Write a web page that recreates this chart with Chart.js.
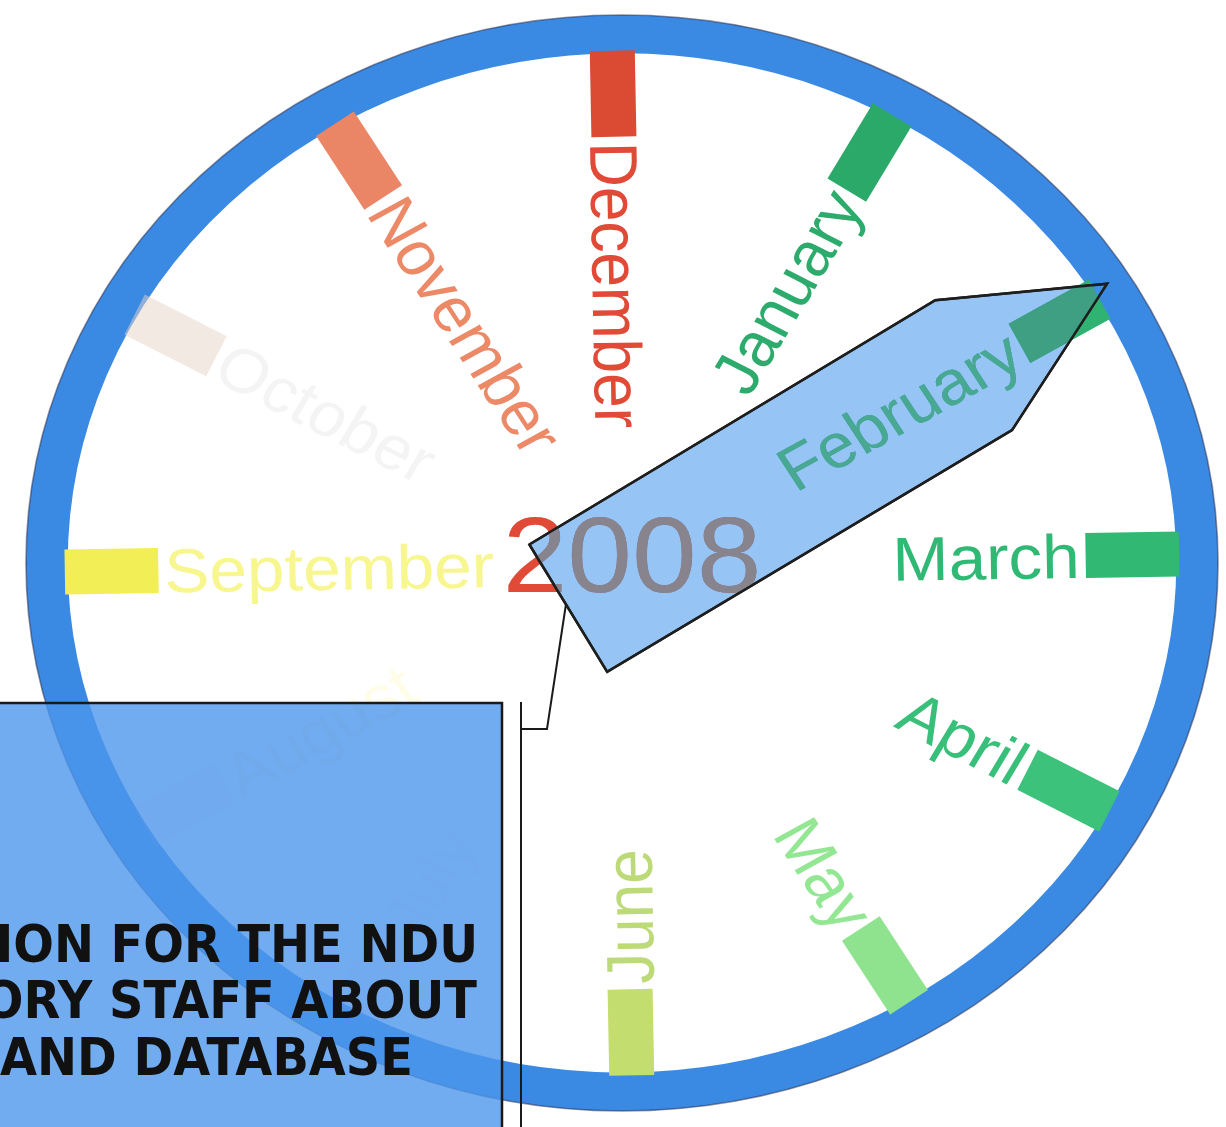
<!DOCTYPE html>
<html>
<head>
<meta charset="utf-8">
<script src="https://cdn.jsdelivr.net/npm/chart.js@4.4.1/dist/chart.umd.min.js"></script>
<style>
  html, body { margin: 0; padding: 0; background: #fff; overflow: hidden; }
  #wrap { width: 1226px; height: 1127px; position: relative; }
</style>
</head>
<body>
<div id="wrap"><canvas id="clock"></canvas></div>
<script>
// Months around the dial (January at one o'clock, December at twelve)
const months = ['January', 'February', 'March', 'April', 'May', 'June',
                'July', 'August', 'September', 'October', 'November', 'December'];
const tickColors = ['#2aa968', '#2fb272', '#31b872', '#3cc27b', '#8fe38f', '#c3dd6e',
                    'rgba(250,240,190,0.06)', 'rgba(250,240,190,0.08)', '#f1ef55',
                    'rgba(232,212,200,0.5)', '#ea8565', '#db4a33'];
const labelColors = ['#2dab6c', '#2eb278', '#2fb974', '#38bf79', '#93e793', '#bdda78',
                     'rgba(255,245,180,0.06)', 'rgba(255,238,140,0.2)', '#f8f68e',
                     'rgba(210,210,210,0.25)', '#ec8967', '#e04a36'];
// how the marks look through the tinted hand
const underHandText = '#87848e';
const underHandLabel = '#48a892';
const underHandTick = '#3e9f82';
const yearLabel = '2008';
const currentMonth = 'February';
const boxLines = ['ION FOR THE NDU', 'ORY STAFF ABOUT', 'AND DATABASE'];

// dial geometry, in unit-circle space
const ROT = 1;                 // slight skew of the scan, degrees
const TICK_IN = 0.778, TICK_OUT = 0.935, LABEL_R = 0.768;
const RING_IN = 0.93;
const HAND_SKEW = 2;           // hand sits a little past the month mark
// hand outline as (along, across) in dial units
const handShape = [[-0.112, 0.113], [0.702, 0.116], [0.96, -0.016], [0.681, -0.153], [-0.129, -0.153]];
const LABEL_SIZE = 62, YEAR_SIZE = 107;

// centre at (622, 563) px, radius 596 x 548 px
const X_MIN = -622 / 596, X_MAX = 604 / 596;
const Y_MIN = -564 / 548, Y_MAX = 563 / 548;

function monthAngle(i) { return (90 - 30 * (i + 1) + ROT) * Math.PI / 180; }
function polar(r, a) { return { x: r * Math.cos(a), y: r * Math.sin(a) }; }

const tickSets = months.map((m, i) => ({
    label: m,
    data: [polar(TICK_IN, monthAngle(i)), polar(TICK_OUT, monthAngle(i))],
    showLine: true,
    borderColor: tickColors[i],
    borderWidth: 45,
    borderCapStyle: 'butt',
    pointRadius: 0,
    fill: false
}));

// clock hand pointing at the current month
const handMonth = months.indexOf(currentMonth);
const handAngle = monthAngle(handMonth) + HAND_SKEW * Math.PI / 180;
const handPoints = handShape.concat([handShape[0]]).map(([u, v]) => ({
    x: u * Math.cos(handAngle) - v * Math.sin(handAngle),
    y: u * Math.sin(handAngle) + v * Math.cos(handAngle)
}));
const handSet = {
    label: 'hand',
    data: handPoints,
    showLine: true,
    fill: 'shape',
    backgroundColor: 'rgba(64, 150, 237, 0.55)',
    borderColor: '#1e1e1e',
    borderWidth: 2.5,
    borderJoinStyle: 'miter',
    pointRadius: 0,
    tension: 0
};

function geom(chart) {
    const xs = chart.scales.x, ys = chart.scales.y;
    const cx = xs.getPixelForValue(0), cy = ys.getPixelForValue(0);
    return { xs, ys, cx, cy, rx: xs.getPixelForValue(1) - cx, ry: cy - ys.getPixelForValue(1) };
}

function drawLabel(ctx, g, i, color) {
    const a = monthAngle(i);
    const outward = Math.cos(a) > 0.1;
    ctx.save();
    ctx.translate(g.xs.getPixelForValue(LABEL_R * Math.cos(a)),
                  g.ys.getPixelForValue(LABEL_R * Math.sin(a)));
    ctx.scale(g.rx / g.ry, 1);
    ctx.rotate(outward ? -a : Math.PI - a);
    ctx.textAlign = outward ? 'right' : 'left';
    ctx.textBaseline = 'alphabetic';
    ctx.fillStyle = color;
    ctx.font = LABEL_SIZE + 'px "Liberation Sans", Arial, sans-serif';
    ctx.fillText(months[i], 0, LABEL_SIZE * 0.358);
    ctx.restore();
}

function drawYear(ctx, g, color) {
    ctx.save();
    ctx.translate(g.cx + 10, g.cy - 9);
    ctx.scale(g.rx / g.ry, 1);
    ctx.textAlign = 'center';
    ctx.textBaseline = 'alphabetic';
    ctx.fillStyle = color;
    ctx.font = YEAR_SIZE + 'px "Liberation Sans", Arial, sans-serif';
    ctx.fillText(yearLabel, 0, YEAR_SIZE * 0.358);
    ctx.restore();
}

const dialPlugin = {
    id: 'dial',
    beforeDatasetsDraw(chart) {
        const ctx = chart.ctx;
        const g = geom(chart);

        // blue ring
        ctx.save();
        ctx.translate(g.cx, g.cy);
        ctx.scale(g.rx / g.ry, 1);
        ctx.beginPath();
        ctx.arc(0, 0, g.ry * (1 + RING_IN) / 2, 0, Math.PI * 2);
        ctx.strokeStyle = '#3a8ae4';
        ctx.lineWidth = g.ry * (1 - RING_IN);
        ctx.stroke();
        ctx.beginPath();
        ctx.arc(0, 0, g.ry, 0, Math.PI * 2);
        ctx.strokeStyle = 'rgba(40, 40, 70, 0.5)';
        ctx.lineWidth = 1.5;
        ctx.stroke();
        ctx.restore();

        months.forEach((m, i) => drawLabel(ctx, g, i, labelColors[i]));
        drawYear(ctx, g, labelColors[11]);
    },
    afterDatasetsDraw(chart) {
        const ctx = chart.ctx;
        const g = geom(chart);

        // what shows through the hand: redraw inside its outline
        const pts = chart.getDatasetMeta(0).data;
        const handPath = () => {
            ctx.beginPath();
            pts.forEach((p, k) => k ? ctx.lineTo(p.x, p.y) : ctx.moveTo(p.x, p.y));
            ctx.closePath();
        };
        ctx.save();
        handPath();
        ctx.clip();
        const tick = chart.getDatasetMeta(handMonth + 1).data;
        ctx.beginPath();
        ctx.moveTo(tick[0].x, tick[0].y);
        ctx.lineTo(tick[1].x, tick[1].y);
        ctx.lineWidth = 45;
        ctx.lineCap = 'butt';
        ctx.strokeStyle = underHandTick;
        ctx.stroke();
        drawLabel(ctx, g, handMonth, underHandLabel);
        drawYear(ctx, g, underHandText);
        ctx.restore();
        ctx.save();
        handPath();
        ctx.strokeStyle = '#1e1e1e';
        ctx.lineWidth = 2.5;
        ctx.lineJoin = 'miter';
        ctx.stroke();
        ctx.restore();

        ctx.save();
        ctx.strokeStyle = '#1a1a1a';
        ctx.lineWidth = 2;
        // leader line from the hand to the box
        ctx.beginPath();
        ctx.moveTo(566, 604);
        ctx.lineTo(547, 729);
        ctx.lineTo(521, 729);
        ctx.stroke();
        ctx.beginPath();
        ctx.moveTo(521, 702);
        ctx.lineTo(521, 1130);
        ctx.stroke();

        // title box
        ctx.fillStyle = 'rgba(78, 150, 236, 0.8)';
        ctx.fillRect(-5, 703, 507, 430);
        ctx.beginPath();
        ctx.moveTo(-5, 703);
        ctx.lineTo(502, 703);
        ctx.lineTo(502, 1130);
        ctx.lineWidth = 2.5;
        ctx.stroke();

        ctx.font = 'bold 51px "DejaVu Sans", Verdana, sans-serif';
        const fit = 413 / ctx.measureText(boxLines[2]).width;
        const rights = [478, 477, 413];
        const bases = [962, 1018, 1075];
        ctx.fillStyle = '#111';
        ctx.textAlign = 'right';
        ctx.textBaseline = 'alphabetic';
        boxLines.forEach((t, i) => {
            ctx.save();
            ctx.translate(rights[i], bases[i]);
            ctx.scale(fit, 1);
            ctx.fillText(t, 0, 0);
            ctx.restore();
        });
        ctx.restore();
    }
};

new Chart(document.getElementById('clock'), {
    type: 'scatter',
    data: { datasets: [handSet].concat(tickSets) },
    options: {
        responsive: true,
        maintainAspectRatio: false,
        animation: false,
        events: [],
        layout: { padding: 0 },
        plugins: {
            legend: { display: false },
            tooltip: { enabled: false }
        },
        scales: {
            x: { type: 'linear', display: false, min: X_MIN, max: X_MAX },
            y: { type: 'linear', display: false, min: Y_MIN, max: Y_MAX }
        }
    },
    plugins: [dialPlugin]
});
</script>
</body>
</html>
